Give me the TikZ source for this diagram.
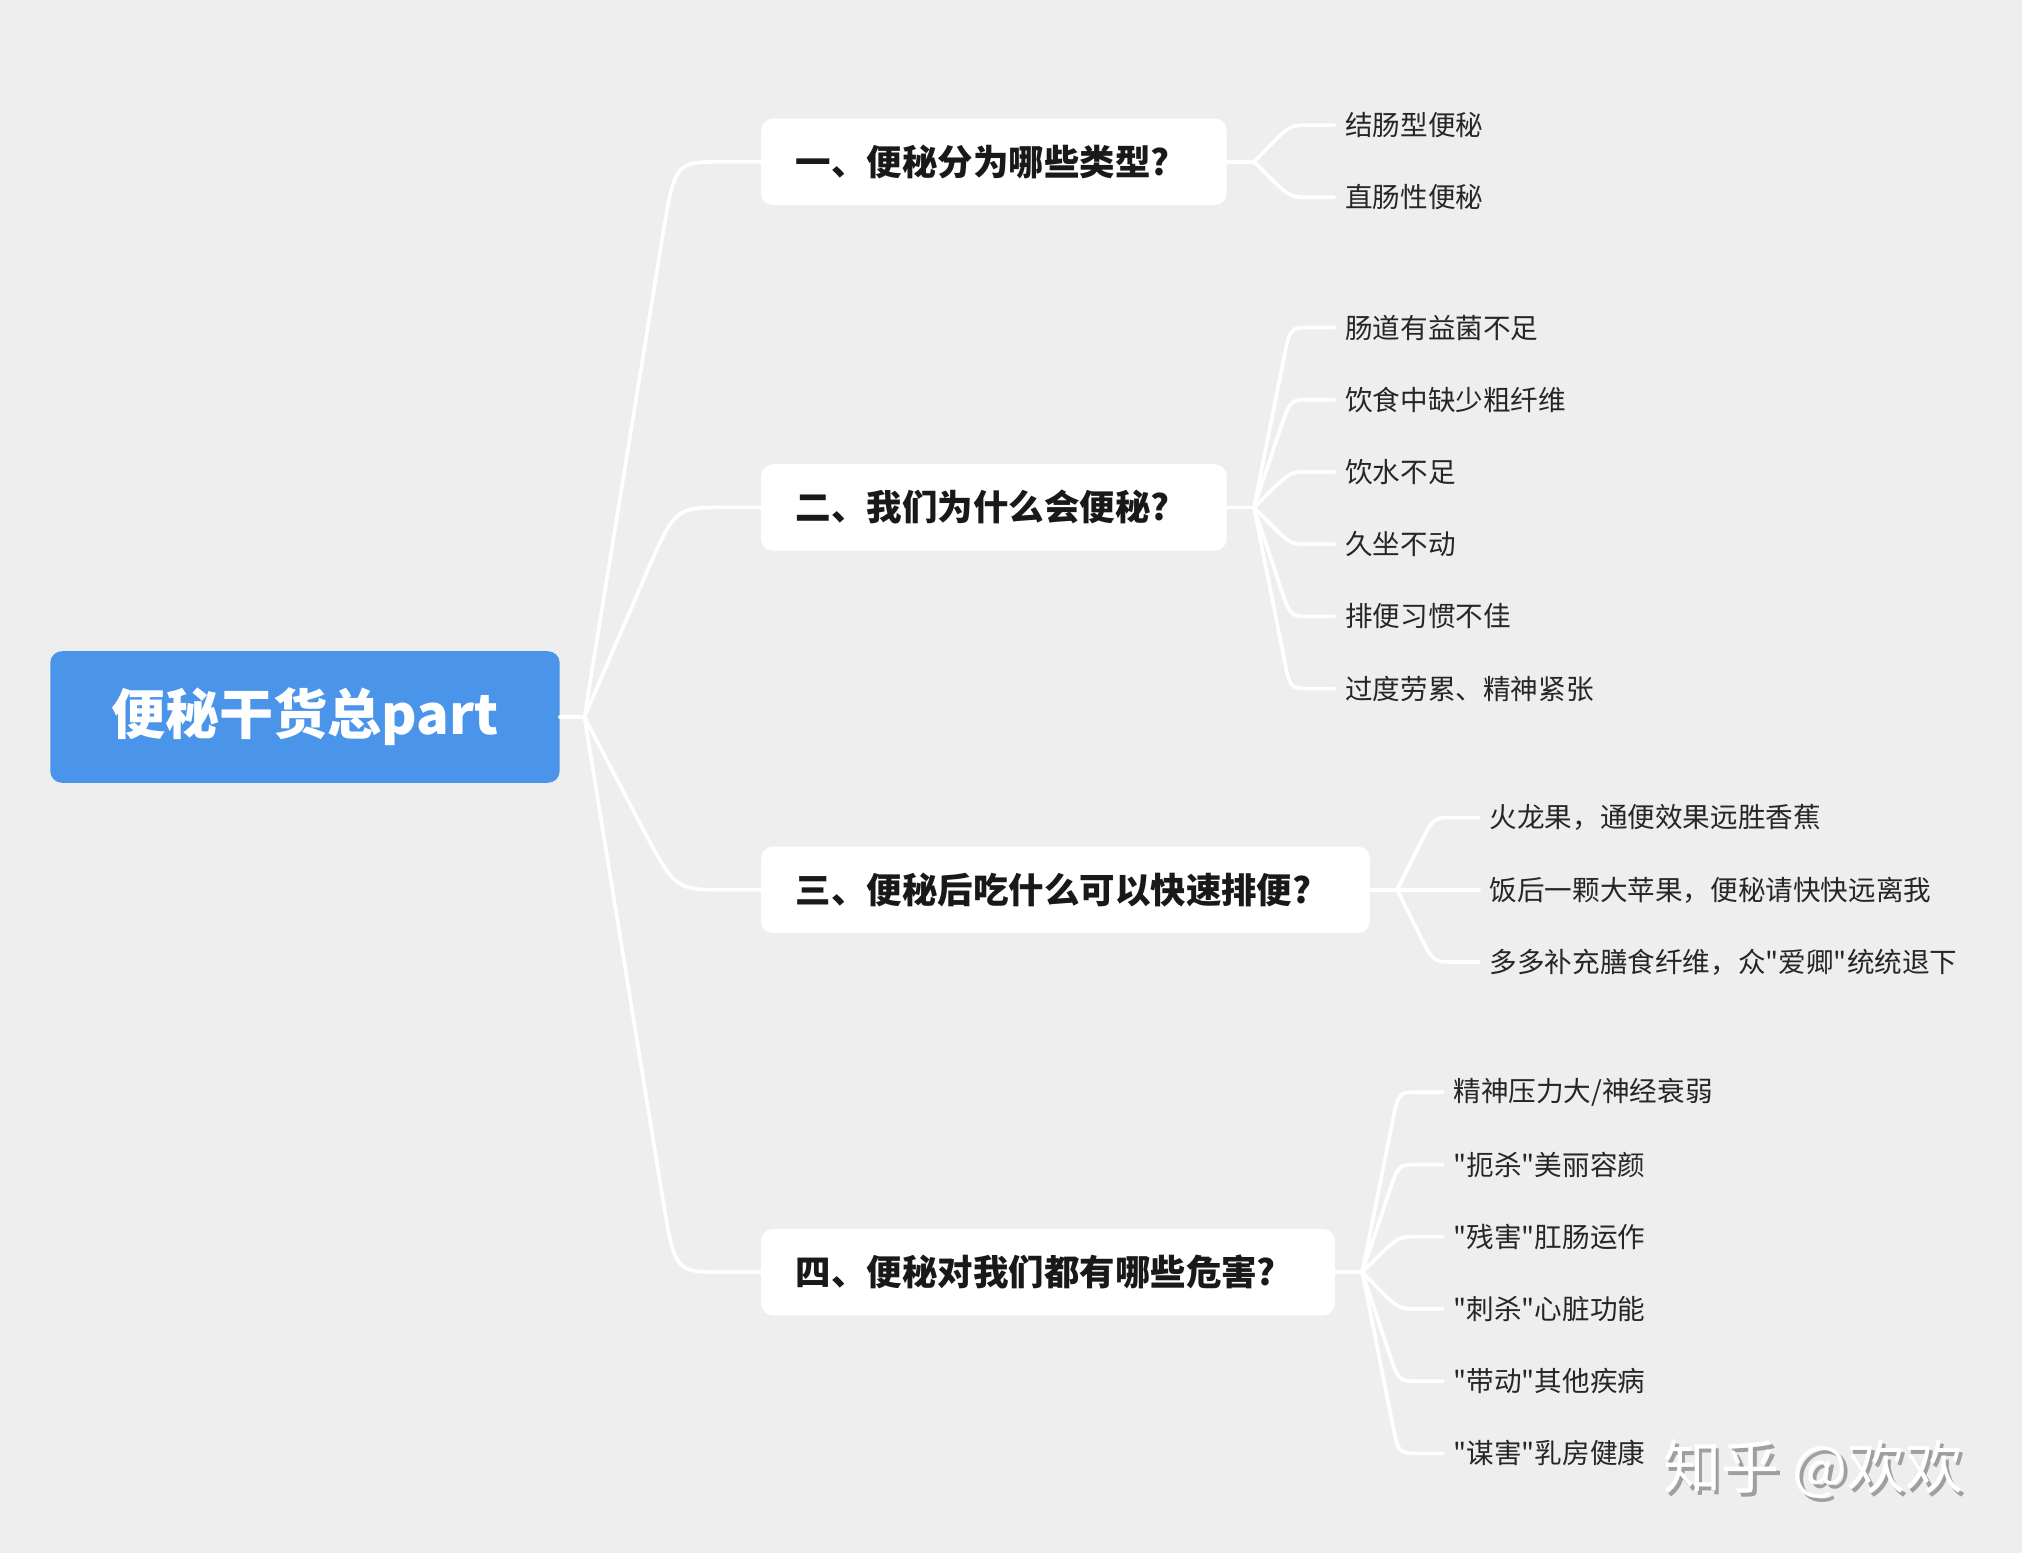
\documentclass[tikz,border=0pt]{standalone}
\usepackage{fontspec}
\newfontfamily\cjk{Noto Sans CJK SC}
\usetikzlibrary{calc}
\definecolor{bgcol}{RGB}{238,238,238}
\definecolor{rootblue}{RGB}{74,148,234}
\definecolor{leaftext}{RGB}{38,38,38}
% curved connector: hub, target node, corner offset, bend length
\newcommand{\curvelink}[4]{%
  \coordinate (#2-c) at ($(#1 |- #2.west)+(#3,0)$);
  \draw[link] (#1) -- ($(#2-c)!#4!(#1)$) .. controls (#2-c) .. ($(#2-c)+(#4*0.6,0)$) -- (#2.west);}

\begin{document}
\begin{tikzpicture}[x=1pt,y=-1pt,
  rootbox/.style={fill=rootblue, rounded corners=9pt, text=white, font=\cjk\fontsize{42}{50}\selectfont\bfseries, minimum width=395pt, minimum height=102pt, inner sep=0pt},
  topicbox/.style={anchor=west, fill=white, rounded corners=9pt, text=black!90, font=\cjk\fontsize{27.5}{33}\selectfont\bfseries, minimum height=67pt, inner xsep=27pt, inner ysep=0pt, align=left},
  leaf/.style={anchor=west, inner xsep=8pt, inner ysep=0pt, text=leaftext, font=\cjk\fontsize{21.4}{26}\selectfont},
  link/.style={white, line width=2.8pt, line cap=round, line join=round}]
  \fill[bgcol] (0,0) rectangle (1568,1204);
  \useasboundingbox (0,0) rectangle (1568,1204);
  % root
  \node[rootbox] (root) at (236.5,556) {便秘干货总part};
  \coordinate (hub0) at ($(root.east)+(19,0)$);
  \draw[link] (root.east) -- (hub0);
  % topics
  \node[topicbox, text width=307pt] (t1) at (590,125.5) {一、便秘分为哪些类型?};
  \node[topicbox, text width=307pt] (t2) at (590,393.5) {二、我们为什么会便秘?};
  \node[topicbox, text width=418pt] (t3) at (590,690) {三、便秘后吃什么可以快速排便?};
  \node[topicbox, text width=391pt] (t4) at (590,986.5) {四、便秘对我们都有哪些危害?};
  \foreach \n in {1,...,4}{
    \curvelink{hub0}{t\n}{70}{62pt}
    \coordinate (hub\n) at ($(t\n.east)+(21,0)$);
    \draw[link] (t\n.east) -- (hub\n);
  }
  % leaves
  \foreach \txt [count=\i] in {结肠型便秘, 直肠性便秘}{
    \node[leaf] (l1\i) at (1035, 41+56*\i) {\txt};
    \curvelink{hub1}{l1\i}{28}{25pt}
  }
  \foreach \txt [count=\i] in {肠道有益菌不足, 饮食中缺少粗纤维, 饮水不足, 久坐不动, 排便习惯不佳, 过度劳累、精神紧张}{
    \node[leaf] (l2\i) at (1035, 198+56*\i) {\txt};
    \curvelink{hub2}{l2\i}{28}{25pt}
  }
  \foreach \txt [count=\i] in {火龙果，通便效果远胜香蕉, 饭后一颗大苹果，便秘请快快远离我, 多多补充膳食纤维，众"爱卿"统统退下}{
    \node[leaf] (l3\i) at (1147, 578+56*\i) {\txt};
    \curvelink{hub3}{l3\i}{28}{25pt}
  }
  \foreach \txt [count=\i] in {精神压力大/神经衰弱, "扼杀"美丽容颜, "残害"肛肠运作, "刺杀"心脏功能, "带动"其他疾病, "谋害"乳房健康}{
    \node[leaf] (l4\i) at (1119, 791+56*\i) {\txt};
    \curvelink{hub4}{l4\i}{28}{25pt}
  }
  % watermark
  \node[font=\cjk\fontsize{45}{52}\selectfont, text=gray!75] (wmshadow) at (1409,1142) {知乎 @欢欢};
  \node[font=\cjk\fontsize{45}{52}\selectfont, text=white] (wm) at (1406,1139) {知乎 @欢欢};
\end{tikzpicture}
\end{document}
